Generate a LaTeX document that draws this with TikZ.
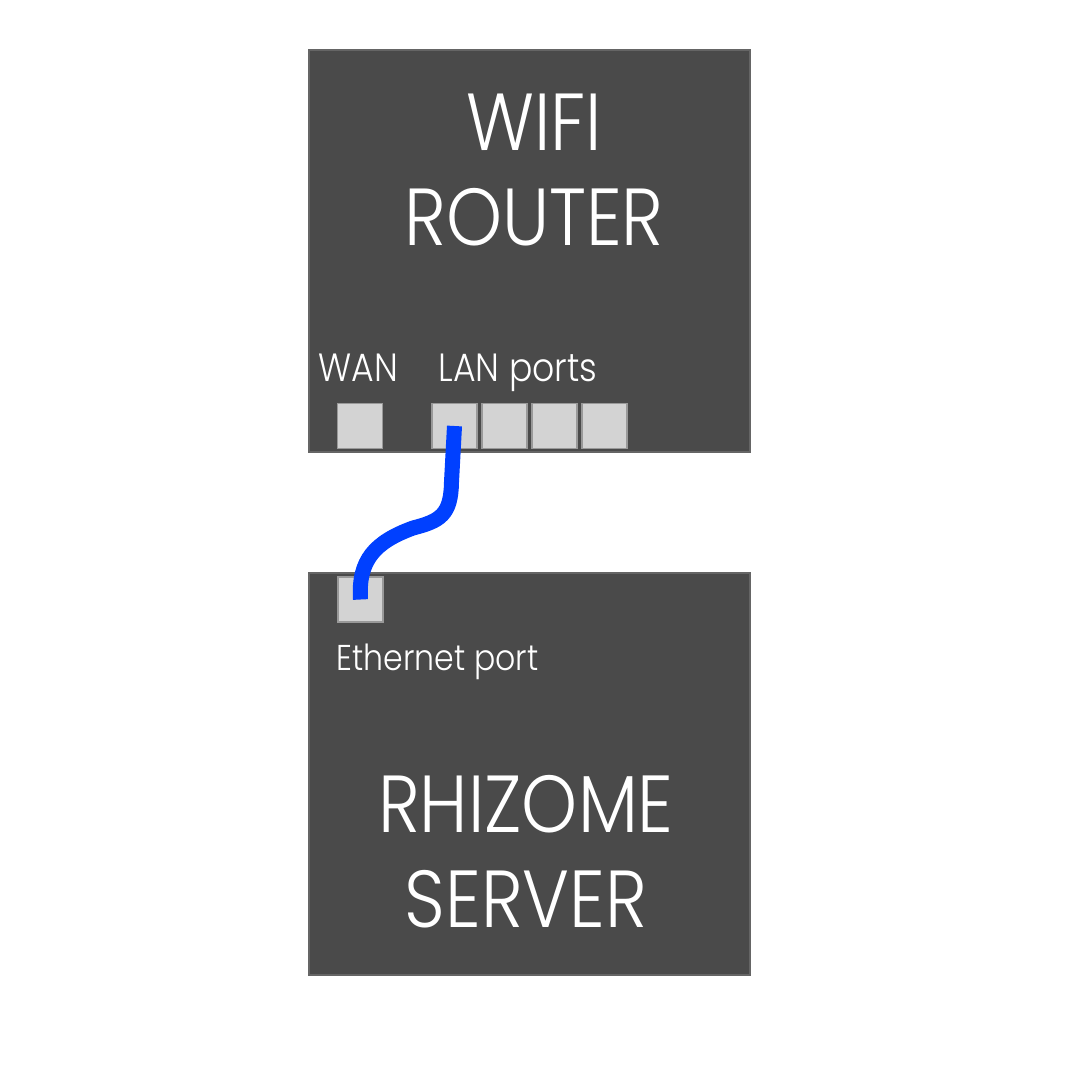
\documentclass[tikz,border=0pt]{standalone}
\usepackage{fontspec}
\setmainfont{Poppins}[UprightFont={* Light},FakeStretch=0.88]
\definecolor{boxgray}{HTML}{4A4A4A}
\definecolor{portgray}{HTML}{D3D3D3}
\definecolor{cableblue}{HTML}{0040FF}
\tikzset{
  device/.style={fill=boxgray,draw=boxgray!85!white,line width=0.4pt,minimum width=4.41cm,minimum height=4.02cm,inner sep=0pt},
  port/.style={fill=portgray,draw=gray!80,line width=0.5pt,minimum size=0.45cm,inner sep=0pt},
  bigtext/.style={text=white,font=\fontsize{23}{27}\selectfont,align=center,inner sep=0pt},
  smalltext/.style={text=white,font=\fontsize{11.2}{13}\selectfont,inner sep=0pt}
}
\begin{document}
\begin{tikzpicture}[x=0.01cm,y=-0.01cm]
\useasboundingbox[fill=white] (0,0) rectangle (1066,1066);

% Router
\node[device] (router) at (529.5,251) {};
\node[bigtext,anchor=base] (routername) at (534,245) {WIFI\\ROUTER};
\node[smalltext,anchor=base west] (wanlabel) at (318,381) {WAN};
\node[smalltext,anchor=base west] (lanlabel) at (438,381) {LAN ports};

% Ports
\node[port] (wan) at (360,426) {};
\node[port] (lan1) at (454.5,426) {};
\node[port] (lan2) at (504.5,426) {};
\node[port] (lan3) at (554.5,426) {};
\node[port] (lan4) at (604.5,426) {};

% Server
\node[device] (server) at (529.5,774) {};
\node[port] (eth) at (360.5,599.5) {};
\node[smalltext,anchor=base west,font=\fontsize{10.2}{13}\selectfont] (ethlabel) at (336,670) {Ethernet port};
\node[bigtext,anchor=base] (servername) at (526,927) {RHIZOME\\SERVER};

% Cable
\draw[cableblue,line width=0.15cm] (lan1.center) -- ++(-3,56)
  .. controls (451,515) and (440,521) .. (413,528)
  .. controls (375,542) and (358,560) .. (eth.center);
\end{tikzpicture}
\end{document}
